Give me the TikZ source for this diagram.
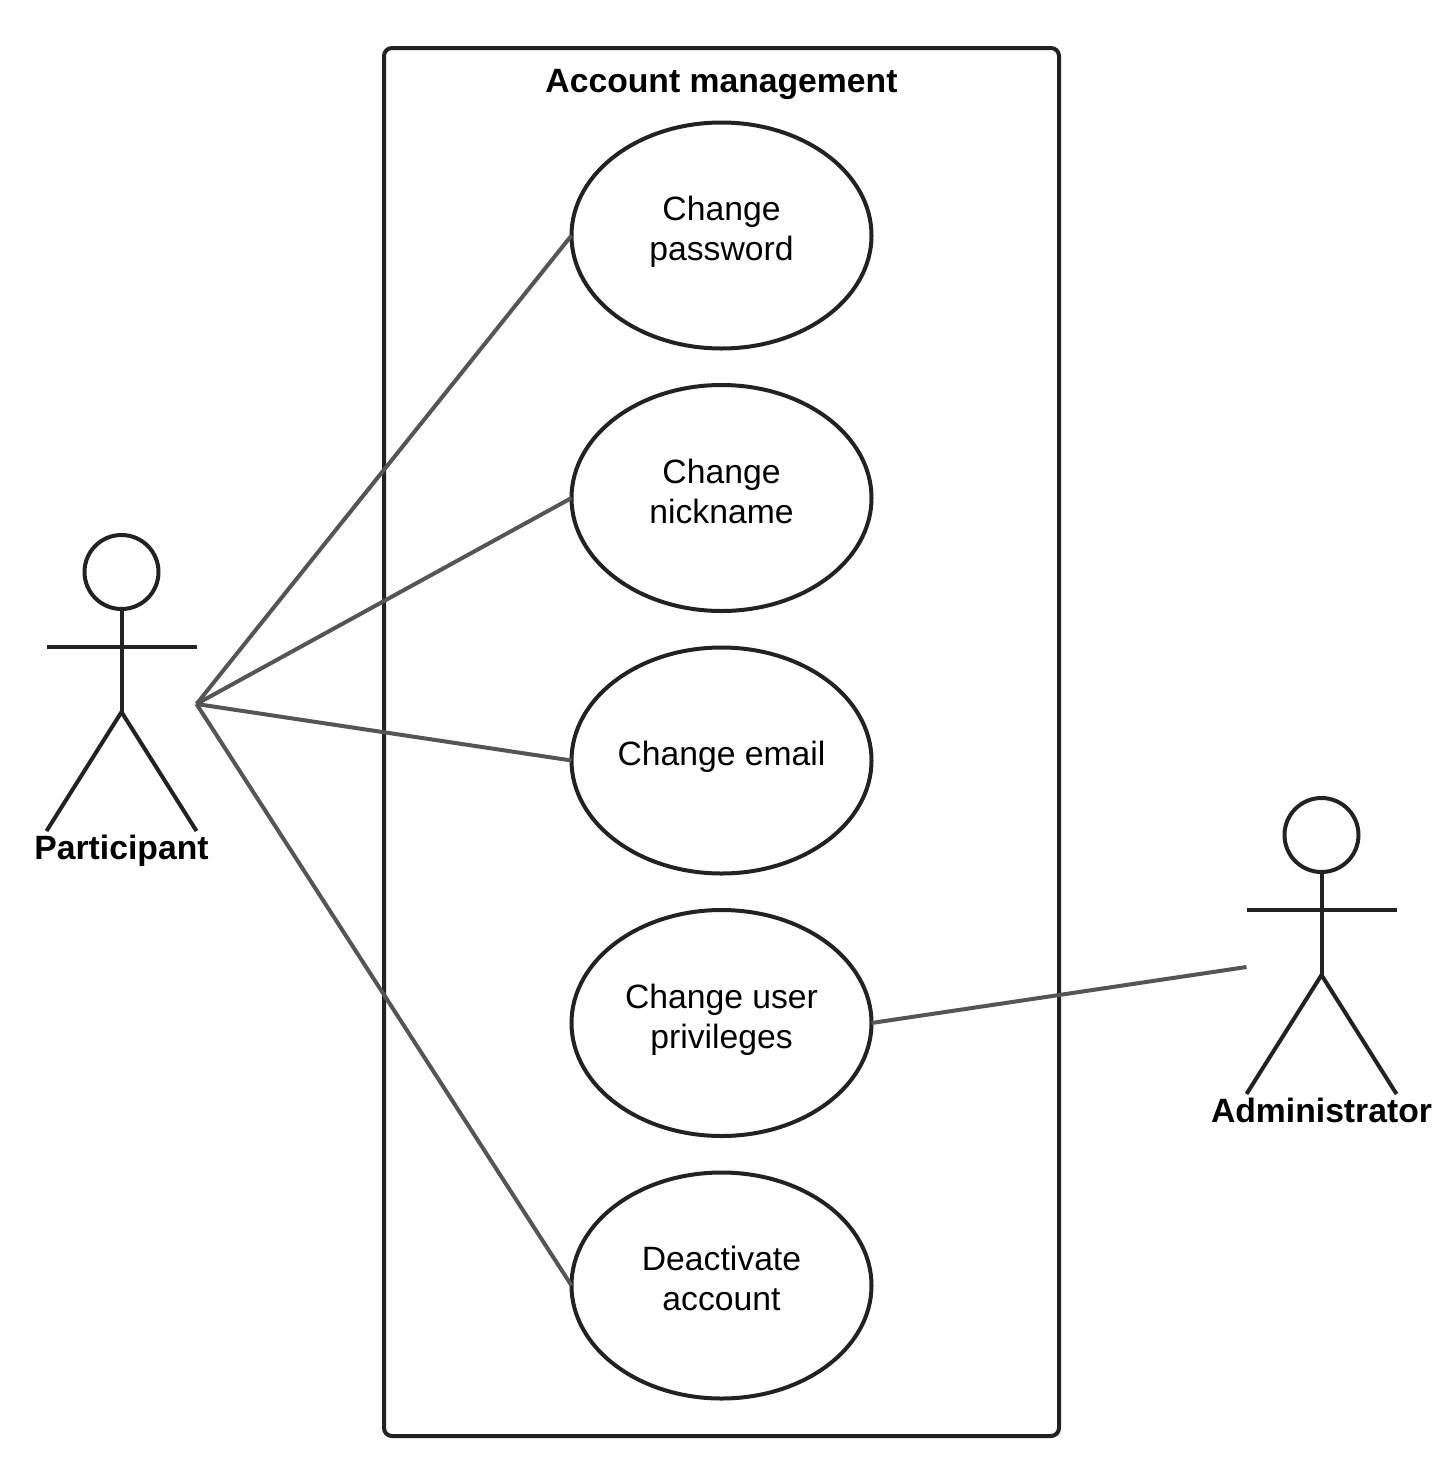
\documentclass[tikz,border=0pt]{standalone}
\usepackage{fontspec}
\setmainfont{Liberation Sans}
\usetikzlibrary{shapes,shapes.geometric,positioning}
\definecolor{linkgray}{HTML}{555555}
\definecolor{inkblack}{HTML}{222222}

\begin{document}
\begin{tikzpicture}[
    x=1pt, y=-1pt,
    usecase/.style={ellipse, draw=inkblack, line width=4pt, minimum width=300pt, minimum height=226pt, inner sep=0pt, outer sep=0pt, align=center, font=\fontsize{33.7}{40}\selectfont},
    system/.style={rectangle, draw=inkblack, line width=4pt, rounded corners=8pt, minimum width=675pt, minimum height=1388pt, outer sep=0pt},
    title/.style={font=\fontsize{33.7}{40}\selectfont\bfseries, inner sep=0pt},
    head/.style={circle, draw=inkblack, line width=4pt, minimum size=74pt, inner sep=0pt, outer sep=0pt},
    limb/.style={draw=inkblack, line width=4pt, line join=round},
    link/.style={draw=linkgray, line width=4pt}
]
    \useasboundingbox (0,0) rectangle (1456,1475);

    \node[system] (box) at (721.5,742) {};
    \node[title] (boxtitle) at (721.5,84) {Account management};

    % use cases
    \node[usecase] (password) at (721.5,235.5) {Change\\password\\[-26pt]};
    \node[usecase] (nickname) at (721.5,498) {Change\\nickname\\[-26pt]};
    \node[usecase] (email) at (721.5,760.5) {Change email\\[-26pt]};
    \node[usecase] (privileges) at (721.5,1023) {Change user\\privileges\\[-26pt]};
    \node[usecase] (deactivate) at (721.5,1285.5) {Deactivate\\account\\[-26pt]};

    % actors
    \foreach \who/\px/\py/\side in {participant/121.5/572/1, administrator/1321.5/835/-1} {
        \node[head] (\who head) at (\px,\py) {};
        \coordinate (\who neck) at (\px,\py+133);
        \coordinate (\who hip) at (\px,\py+140);
        \coordinate (\who arml) at (\px-75,\py+74.5);
        \coordinate (\who armr) at (\px+75,\py+74.5);
        \coordinate (\who footl) at (\px-75,\py+259);
        \coordinate (\who footr) at (\px+75,\py+259);
        \coordinate (\who end) at (\px+\side*75,\py+132);
        \draw[limb] (\who head.south) -- (\who neck) -- (\who hip);
        \draw[limb] (\who arml) -- (\who armr);
        \draw[limb] (\who footl) -- (\who hip) -- (\who footr);
    }
    \node[title] (participant) at (121.5,851) {Participant};
    \node[title] (administrator) at (1321.5,1110) {Administrator};

    \draw[link] (participantend) -- (password.west);
    \draw[link] (participantend) -- (nickname.west);
    \draw[link] (participantend) -- (email.west);
    \draw[link] (participantend) -- (deactivate.west);
    \draw[link] (privileges.east) -- (administratorend);
\end{tikzpicture}
\end{document}
